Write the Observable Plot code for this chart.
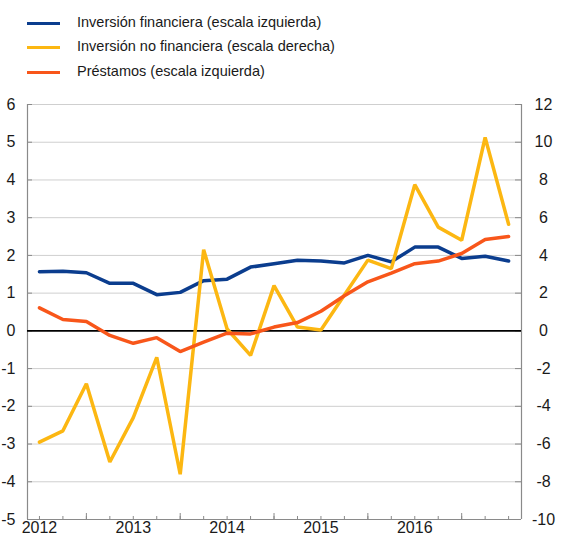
<!DOCTYPE html>
<html>
<head>
<meta charset="utf-8">
<script src="https://cdn.jsdelivr.net/npm/d3@7"></script>
<script src="https://cdn.jsdelivr.net/npm/@observablehq/plot@0.6"></script>
<style>
  html, body { margin: 0; padding: 0; background: #fff; }
  body { width: 561px; height: 536px; overflow: hidden; font-family: "Liberation Sans", Arial, sans-serif; }
  #legend { position: relative; height: 88px; font-size: 14.5px; color: #1a1a1a; }
  .sw { position: absolute; left: 27px; width: 33px; height: 3px; }
  .lb { position: absolute; left: 77px; white-space: nowrap; }
  svg { display: block; }
</style>
</head>
<body>
<div id="legend"></div>
<div id="chart"></div>
<script>
// ---- data ----
const quarters = [
  "2012T1","2012T2","2012T3","2012T4",
  "2013T1","2013T2","2013T3","2013T4",
  "2014T1","2014T2","2014T3","2014T4",
  "2015T1","2015T2","2015T3","2015T4",
  "2016T1","2016T2","2016T3","2016T4",
  "2017T1"
];
const inversionFinanciera = [1.57, 1.58, 1.54, 1.26, 1.26, 0.96, 1.02, 1.33, 1.37, 1.69, 1.78, 1.87, 1.85, 1.80, 2.00, 1.83, 2.22, 2.22, 1.92, 1.98, 1.85];
const inversionNoFinanciera = [-5.9, -5.3, -2.8, -6.95, -4.6, -1.4, -7.6, 4.3, 0.1, -1.3, 2.4, 0.2, 0.05, 1.9, 3.75, 3.3, 7.75, 5.5, 4.8, 10.25, 5.65];
const prestamos = [0.61, 0.30, 0.25, -0.12, -0.33, -0.18, -0.55, -0.30, -0.06, -0.08, 0.10, 0.22, 0.52, 0.93, 1.30, 1.53, 1.78, 1.85, 2.05, 2.42, 2.50];

const seriesNames = [
  "Inversión financiera (escala izquierda)",
  "Inversión no financiera (escala derecha)",
  "Préstamos (escala izquierda)"
];
const seriesColors = ["#0b3d8e", "#fcb712", "#f8561a"];

const leftTicks = [-5, -4, -3, -2, -1, 0, 1, 2, 3, 4, 5, 6];
const rightTicks = [-10, -8, -6, -4, -2, 0, 2, 4, 6, 8, 10, 12];
const yearLabels = [2012, 2013, 2014, 2015, 2016];

// ---- derived ----
const qToNum = q => +q.slice(0, 4) + (+q.slice(5) - 1) / 4;
const rows = [];
quarters.forEach((q, i) => {
  rows.push({t: qToNum(q), y: inversionFinanciera[i], s: 0});
  rows.push({t: qToNum(q), y: inversionNoFinanciera[i] / 2, s: 1}); // right scale = 2x left
  rows.push({t: qToNum(q), y: prestamos[i], s: 2});
});
const quarterTicks = quarters.map(qToNum);
const midYearTicks = yearLabels.map(y => y + 0.5);

// ---- legend ----
const legend = document.getElementById("legend");
const centers = [23, 47, 72];
seriesNames.forEach((name, i) => {
  const sw = document.createElement("div");
  sw.className = "sw";
  sw.style.top = (centers[i] - 1.5) + "px";
  sw.style.background = seriesColors[i];
  legend.appendChild(sw);
  const lb = document.createElement("div");
  lb.className = "lb";
  lb.style.top = (centers[i] - 9) + "px";
  lb.textContent = name;
  legend.appendChild(lb);
});

// ---- chart ----
const W = 561, H = 448, mL = 27, mR = 40, mT = 16, mB = 17;
const pw = W - mL - mR, ph = H - mT - mB;
const xDomain = [2011.8725, 2017.1375];
const axisGray = "#8a8a8a";

const chart = Plot.plot({
  width: W, height: H,
  marginLeft: mL, marginRight: mR, marginTop: mT, marginBottom: mB,
  style: {fontFamily: "'Liberation Sans', Arial, sans-serif", background: "white", overflow: "visible"},
  x: {type: "linear", domain: xDomain, axis: null},
  y: {type: "linear", domain: [-5, 6], axis: null},
  color: {domain: [0, 1, 2], range: seriesColors},
  marks: [
    Plot.ruleY(leftTicks.filter(d => d !== -5 && d !== 0), {stroke: "#cfcfcf", strokeWidth: 1}),
    Plot.ruleY(leftTicks, {stroke: axisGray, insetRight: pw - 5}),
    Plot.ruleY(leftTicks, {stroke: axisGray, insetLeft: pw - 6}),
    Plot.ruleX(quarterTicks, {stroke: axisGray, insetTop: ph - 3}),
    Plot.ruleX(midYearTicks, {stroke: axisGray, insetTop: ph - 6}),
    Plot.ruleX([xDomain[0]], {stroke: axisGray, strokeWidth: 1.2}),
    Plot.ruleX([xDomain[1]], {stroke: axisGray, strokeWidth: 1.2}),
    Plot.ruleY([-5], {stroke: axisGray, strokeWidth: 1.2}),
    Plot.ruleY([0], {stroke: "#000", strokeWidth: 1.8}),
    Plot.line(rows.filter(d => d.s === 0), {x: "t", y: "y", stroke: d => d.s, strokeWidth: 3.5, strokeLinejoin: "miter", curve: "linear"}),
    Plot.line(rows.filter(d => d.s === 1), {x: "t", y: "y", stroke: d => d.s, strokeWidth: 3.5, strokeLinejoin: "miter", curve: "linear"}),
    Plot.line(rows.filter(d => d.s === 2), {x: "t", y: "y", stroke: d => d.s, strokeWidth: 3.5, strokeLinejoin: "miter", curve: "linear"}),
    Plot.text(leftTicks, {y: d => d, text: d => String(d), frameAnchor: "left", dx: -12, textAnchor: "end", fontSize: 16, fill: "#1a1a1a"}),
    Plot.text(rightTicks, {y: d => d / 2, text: d => String(d), frameAnchor: "right", dx: 22, textAnchor: "middle", fontSize: 16, fill: "#1a1a1a"}),
    Plot.text(yearLabels, {x: d => d, text: d => String(d), frameAnchor: "bottom", dy: 13, dx: 0, fontSize: 16, fill: "#1a1a1a"})
  ]
});
document.getElementById("chart").appendChild(chart);
</script>
</body>
</html>
